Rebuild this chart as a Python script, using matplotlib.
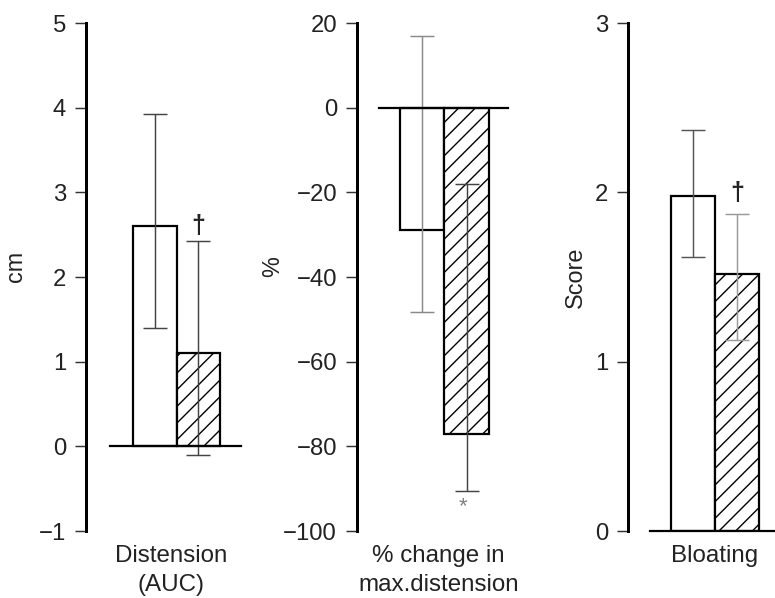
import matplotlib
matplotlib.use("Agg")
import matplotlib.pyplot as plt

plt.rcParams['font.family'] = ['Liberation Sans', 'DejaVu Sans']
plt.rcParams['hatch.linewidth'] = 1.0

# ---- data ----
groups = ["Control", "Treatment"]

auc_vals = [2.6, 1.1]
auc_err_low = [1.2, 1.2]
auc_err_up = [1.32, 1.32]
auc_ticks = [-1, 0, 1, 2, 3, 4, 5]

pct_vals = [-29.0, -77.0]
pct_err_low = [19.2, 13.5]
pct_err_up = [46.0, 59.0]
pct_ticks = [-100, -80, -60, -40, -20, 0, 20]

bloat_vals = [1.98, 1.52]
bloat_err_low = [0.36, 0.39]
bloat_err_up = [0.39, 0.35]
bloat_ticks = [0, 1, 2, 3]

ylabels = ["cm", "%", "Score"]
xlabels = ["Distension\n(AUC)", "% change in\nmax.distension", "Bloating"]
marks = ["\u2020", "*", "\u2020"]

# ---- figure ----
fig = plt.figure(figsize=(7.75, 5.98), dpi=100)

bottom, height = 67 / 598, 508 / 598
panels = [
    dict(rect=[86 / 775, bottom, 155 / 775, height], xlim=(-1.58, 1.98), zx=0.155,
         vals=auc_vals, lo=auc_err_low, up=auc_err_up, ticks=auc_ticks,
         ecol=['#444444', '#444444'], ylx=-0.458, yly=0.52, xlx=0.548,
         mark_pos='top', moff=2.5),
    dict(rect=[357 / 775, bottom, 151 / 775, height], xlim=(-1.466, 1.927), zx=0.146,
         vals=pct_vals, lo=pct_err_low, up=pct_err_up, ticks=pct_ticks,
         ecol=['#8a8a8a', '#444444'], ylx=-0.56, yly=0.52, xlx=0.54,
         mark_pos='bottom', moff=-4),
    dict(rect=[628 / 775, bottom, 147 / 775, height], xlim=(-1.477, 1.864), zx=0.15,
         vals=bloat_vals, lo=bloat_err_low, up=bloat_err_up, ticks=bloat_ticks,
         ecol=['#555555', '#9a9a9a'], ylx=-0.36, yly=0.50, xlx=0.59,
         mark_pos='top', moff=7),
]

for i, p in enumerate(panels):
    ax = fig.add_axes(p['rect'])
    x = list(range(len(groups)))
    bars = ax.bar(x, p['vals'], width=1.0, color='white', edgecolor='black',
                  linewidth=1.6, zorder=1)
    bars[1].set_hatch('//')
    for j in x:
        ax.errorbar(j, p['vals'][j], yerr=[[p['lo'][j]], [p['up'][j]]], fmt='none',
                    ecolor=p['ecol'][j], elinewidth=1.05, capsize=8.8, capthick=1.05,
                    zorder=2)
    ax.axhline(0, xmin=p['zx'], xmax=1, color='black', lw=1.6, clip_on=False, zorder=3)

    ax.set_xlim(*p['xlim'])
    ax.set_ylim(p['ticks'][0], p['ticks'][-1])
    ax.set_yticks(p['ticks'])
    ax.set_xticks([])
    for s in ['top', 'right', 'bottom']:
        ax.spines[s].set_visible(False)
    ax.spines['left'].set_linewidth(2.16)
    ax.tick_params(axis='y', direction='out', length=8, width=1.05, pad=6.4,
                   labelsize=17.2, color='#333333', labelcolor='#222222')
    ax.patch.set_visible(False)

    ax.text(p['ylx'], p['yly'], ylabels[i], transform=ax.transAxes, rotation=90,
            ha='center', va='center', fontsize=16.8, color='#222222')
    ax.text(p['xlx'], -0.028, xlabels[i], transform=ax.transAxes, ha='center',
            va='top', fontsize=17.4, color='#222222', linespacing=1.38)

    if p['mark_pos'] == 'top':
        ax.annotate(marks[i], xy=(1, p['vals'][1] + p['up'][1]), xytext=(0, p['moff']),
                    textcoords='offset points', ha='center', va='bottom',
                    fontsize=18, fontweight='bold', color='#222222')
    else:
        ax.annotate(marks[i], xy=(1, p['vals'][1] - p['lo'][1]), xytext=(-3, p['moff']),
                    textcoords='offset points', ha='center', va='top',
                    fontsize=16, color='#808080', annotation_clip=False)

fig.savefig("out.png", dpi=100)
